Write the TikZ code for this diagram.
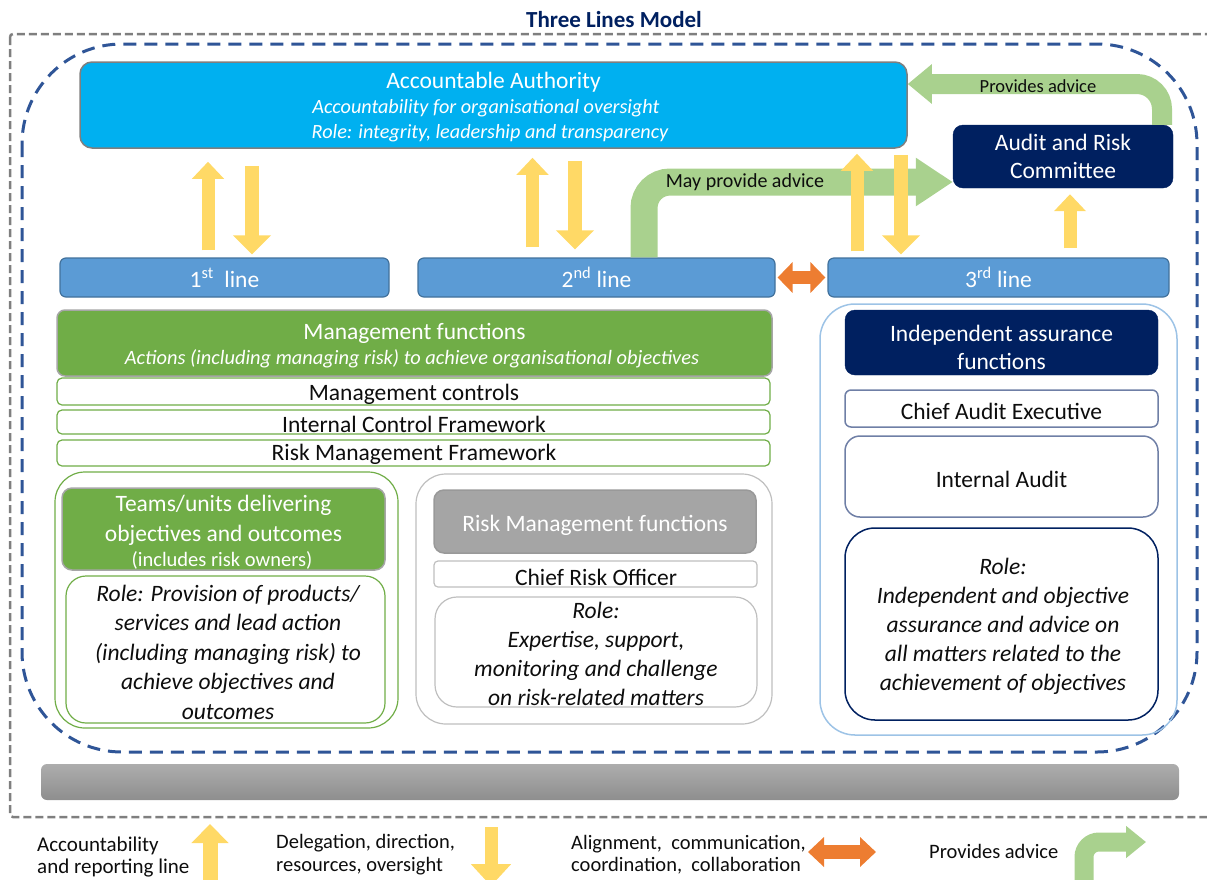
\documentclass[tikz,border=0pt]{standalone}
\usepackage{fontspec}
\setmainfont{Carlito}
\usetikzlibrary{arrows.meta,calc}
\definecolor{cAuth}{HTML}{00B0F0}
\definecolor{cNavy}{HTML}{002060}
\definecolor{cBar}{HTML}{5B9BD5}
\definecolor{cBarB}{HTML}{41719C}
\definecolor{cGreen}{HTML}{70AD47}
\definecolor{cLGreen}{HTML}{A9D18E}
\definecolor{cYel}{HTML}{FFD966}
\definecolor{cOrg}{HTML}{ED7D31}
\definecolor{cRGray}{HTML}{A5A5A5}
\definecolor{cDBlue}{HTML}{2F5597}
\definecolor{cDGray}{HTML}{7F7F7F}
\definecolor{cTxt}{HTML}{0D0D0D}
\definecolor{cLBlue}{HTML}{9DC3E6}
\definecolor{cCae}{HTML}{6F7FA6}
\definecolor{cLGray}{HTML}{BFBFBF}
\definecolor{cBarTop}{HTML}{ADADAD}
\definecolor{cBarBot}{HTML}{8E8E8E}
\newcommand{\fsz}[2]{\fontsize{#1}{#2}\selectfont}
\begin{document}
\begin{tikzpicture}[x=1pt,y=-1pt,
  box/.style={rectangle, inner sep=0pt, align=center, text=cTxt},
  linebar/.style={box, fill=cBar, draw=cBarB, line width=1.2pt, rounded corners=6pt, minimum height=39pt, text=white, font=\fsz{23.5}{28}},
  wgbox/.style={box, fill=white, draw=cGreen, line width=1.2pt, rounded corners=5pt},
  txt/.style={text=cTxt, inner sep=0pt, align=center, font=\fsz{23.5}{28}},
  yarr/.style={cYel, line width=13pt, -{Triangle[width=31pt,length=17pt]}},
  ydn/.style={cYel, line width=14pt, -{Triangle[width=37pt,length=19pt]}},
  garr/.style={cLGreen}
]
\useasboundingbox (0,0) rectangle (1207,879);
\clip (0,0) rectangle (1207,879);

% title
\node[font=\fsz{23}{26}\bfseries, text=cNavy] (title) at (614,20) {Three Lines Model};

% frames
\draw[cDGray, line width=2.5pt, dash pattern=on 8pt off 4pt, rounded corners=3pt] (10,34) rectangle (1230,817);
\draw[cDBlue, line width=3pt, dash pattern=on 13pt off 8pt, rounded corners=100pt] (22,44) rectangle (1197,752);

% accountable authority
\node[box, fill=cAuth, draw=cDGray, line width=1.5pt, rounded corners=12pt, minimum width=827pt, minimum height=86pt] (auth) at (493.5,105) {};
\node[txt, text=white] (authT) at (493.5,82) {Accountable Authority};
\node[txt, text=white, font=\fsz{20.2}{24}\itshape] (authS1) at (486,108) {Accountability for organisational oversight};
\node[txt, text=white, font=\fsz{20.2}{24}\itshape] (authS2) at (490,133) {Role: integrity, leadership and transparency};

% audit and risk committee
\node[box, fill=cNavy, draw=cNavy, rounded corners=10pt, minimum width=220pt, minimum height=63pt, text=white, font=\fsz{23.5}{28}] (arc) at (1063,156.5) {Audit and Risk\\Committee};

% lines
\node[linebar, minimum width=329pt] (l1) at (224.5,277.5) {1\textsuperscript{st}\ \ line};
\node[linebar, minimum width=357pt] (l2) at (596.5,277.5) {2\textsuperscript{nd} line};
\node[linebar, minimum width=341pt] (l3) at (998.5,277.5) {3\textsuperscript{rd} line};

% management functions
\node[box, fill=cGreen, draw=gray!70, line width=1.5pt, rounded corners=8pt, minimum width=715pt, minimum height=66pt] (mgmt) at (414.5,343) {};
\node[txt, text=white] (mgmtT) at (414.5,333) {Management functions};
\node[txt, text=white, font=\fsz{20.4}{24}\itshape] (mgmtS) at (412,359) {Actions (including managing risk) to achieve organisational objectives};

\node[wgbox, minimum width=713pt, minimum height=27pt] (mc) at (413.5,391.5) {};
\node[txt] (mcT) at (414,394) {Management controls};
\node[wgbox, minimum width=713pt, minimum height=24pt] (icf) at (413.5,422) {};
\node[txt] (icfT) at (414,424) {Internal Control Framework};
\node[wgbox, minimum width=713pt, minimum height=26pt] (rmf) at (413.5,453) {};
\node[txt] (rmfT) at (414,454) {Risk Management Framework};

% teams
\node[box, draw=cGreen, line width=1.2pt, rounded corners=30pt, minimum width=343pt, minimum height=256pt] (teams) at (226.5,600) {};
\node[box, fill=cGreen, draw=gray!70, line width=1.5pt, rounded corners=10pt, minimum width=323pt, minimum height=82pt] (teamsH) at (223.5,529) {};
\node[txt, text=white, font=\fsz{23.5}{30}] (teamsT) at (223.5,520) {Teams/units delivering\\objectives and outcomes};
\node[txt, text=white, font=\fsz{20.5}{24}] (teamsS) at (222,560) {(includes risk owners)};
\node[box, draw=cGreen, line width=1.2pt, rounded corners=20pt, minimum width=319pt, minimum height=147pt] (teamsR) at (225.5,649.5) {};
\node[txt, font=\fsz{23.5}{29.5}\itshape] (teamsRT) at (228,652) {Role: Provision of products/\\services and lead action\\(including managing risk) to\\achieve objectives and\\outcomes};

% risk management
\node[box, draw=cLGray, line width=1.2pt, rounded corners=30pt, minimum width=356pt, minimum height=250pt] (riskO) at (594,599) {};
\node[box, fill=cRGray, draw=gray!80, line width=1.5pt, rounded corners=10pt, minimum width=322pt, minimum height=63pt] (riskH) at (595,521.5) {};
\node[txt, text=white] (riskHT) at (595,525) {Risk Management functions};
\node[box, draw=cLGray, line width=1.2pt, rounded corners=4pt, minimum width=323pt, minimum height=26pt] (cro) at (595.5,574) {};
\node[txt] (croT) at (596,577) {Chief Risk Officer};
\node[box, draw=cLGray, line width=1.2pt, rounded corners=22pt, minimum width=322pt, minimum height=110pt] (riskR) at (596,652) {};
\node[txt, font=\fsz{23.5}{29}\itshape] (riskRT) at (596,653.5) {Role:\\Expertise, support,\\monitoring and challenge\\on risk-related matters};

% independent assurance
\node[box, draw=cLBlue, line width=1.5pt, rounded corners=35pt, minimum width=357pt, minimum height=431pt] (indO) at (998.5,519.5) {};
\node[box, fill=cNavy, draw=cNavy, rounded corners=10pt, minimum width=313pt, minimum height=65pt] (indH) at (1001.5,342.5) {};
\node[txt, text=white] (indHT) at (1001.5,347) {Independent assurance\\functions};
\node[box, draw=cCae, line width=1.5pt, rounded corners=6pt, minimum width=313pt, minimum height=37pt] (cae) at (1001.5,408.5) {};
\node[txt] (caeT) at (1001.5,411) {Chief Audit Executive};
\node[box, draw=cCae, line width=1.5pt, rounded corners=15pt, minimum width=313pt, minimum height=81pt] (ia) at (1001.5,476.5) {};
\node[txt] (iaT) at (1001.5,479) {Internal Audit};
\node[box, draw=cNavy, line width=1.5pt, rounded corners=30pt, minimum width=313pt, minimum height=192pt] (indR) at (1001.5,624) {};
\node[txt, font=\fsz{23.5}{29}\itshape] (indRT) at (1003,626) {Role:\\Independent and objective\\assurance and advice on\\all matters related to the\\achievement of objectives};

% bottom bar
\node[box, top color=cBarTop, bottom color=cBarBot, rounded corners=6pt, minimum width=1138pt, minimum height=36pt] (bar) at (610,782) {};

% green advice arrows
\draw[garr, line width=27pt, rounded corners=26pt, -{Triangle[width=46pt,length=37pt]}] (644,0 |- l2.north) -- (644,182) -- (arc.west |- 0,182);
\node[txt, font=\fsz{20}{24}] (mpa) at (745,182) {May provide advice};
\draw[garr, line width=20pt, rounded corners=25pt, -{Triangle[width=38pt,length=24pt]}] (1162,0 |- arc.north) -- (1162,84) -- (auth.east |- 0,84);
\node[txt, font=\fsz{18.5}{22}] (pa) at (1038,86) {Provides advice};

% orange
\draw[cOrg, line width=13pt, {Triangle[width=30pt,length=15pt]}-{Triangle[width=30pt,length=15pt]}, shorten <=2pt, shorten >=2pt] (l2.east) -- (l3.west);

% yellow arrows
\draw[yarr, shorten <=7pt, shorten >=13pt] (208,0 |- l1.north) -- (208,0 |- auth.south);
\draw[ydn, shorten <=17pt, shorten >=3pt] (252,0 |- auth.south) -- (252,0 |- l1.north);
\draw[yarr, shorten <=10pt, shorten >=9pt] (532.5,0 |- l2.north) -- (532.5,0 |- auth.south);
\draw[ydn, shorten <=12pt, shorten >=8pt] (575,0 |- auth.south) -- (575,0 |- l2.north);
\draw[yarr, shorten <=6pt, shorten >=5pt] (857,0 |- l3.north) -- (857,0 |- auth.south);
\draw[ydn, shorten <=6pt, shorten >=3pt] (901,0 |- auth.south) -- (901,0 |- l3.north);
\draw[yarr, shorten <=9pt, shorten >=6pt] (1070,0 |- l3.north) -- (1070,0 |- arc.south);

% legend
\node[txt, font=\fsz{21}{22}, align=left, anchor=west] (lg1) at (37,857) {Accountability\\and reporting line};
\coordinate (lg1a) at (210,880);
\coordinate (lg1b) at (210,824);
\draw[cYel, line width=15pt, -{Triangle[width=36pt,length=19pt]}] (lg1a) -- (lg1b);

\node[txt, font=\fsz{20.5}{23}, align=left, anchor=west] (lg2) at (276,854.5) {Delegation, direction,\\resources, oversight};
\coordinate (lg2a) at (491,827);
\coordinate (lg2b) at (491,886);
\draw[cYel, line width=13pt, -{Triangle[width=39pt,length=22pt]}] (lg2a) -- (lg2b);

\node[txt, font=\fsz{20.5}{22}, align=left, anchor=west] (lg3) at (571,855) {Alignment,\ \ communication,\\coordination,\ \ collaboration};
\coordinate (lg3a) at (808,852);
\coordinate (lg3b) at (876,852);
\draw[cOrg, line width=14pt, {Triangle[width=29pt,length=16pt]}-{Triangle[width=29pt,length=16pt]}] (lg3a) -- (lg3b);

\node[txt, font=\fsz{20.5}{24}, anchor=west] (lg4) at (929,851) {Provides advice};
\coordinate (lg4a) at (1084,885);
\coordinate (lg4b) at (1146,842);
\draw[cLGreen, line width=19pt, rounded corners=15pt, -{Triangle[width=31pt,length=20pt]}] (lg4a) |- (lg4b);
\end{tikzpicture}
\end{document}
